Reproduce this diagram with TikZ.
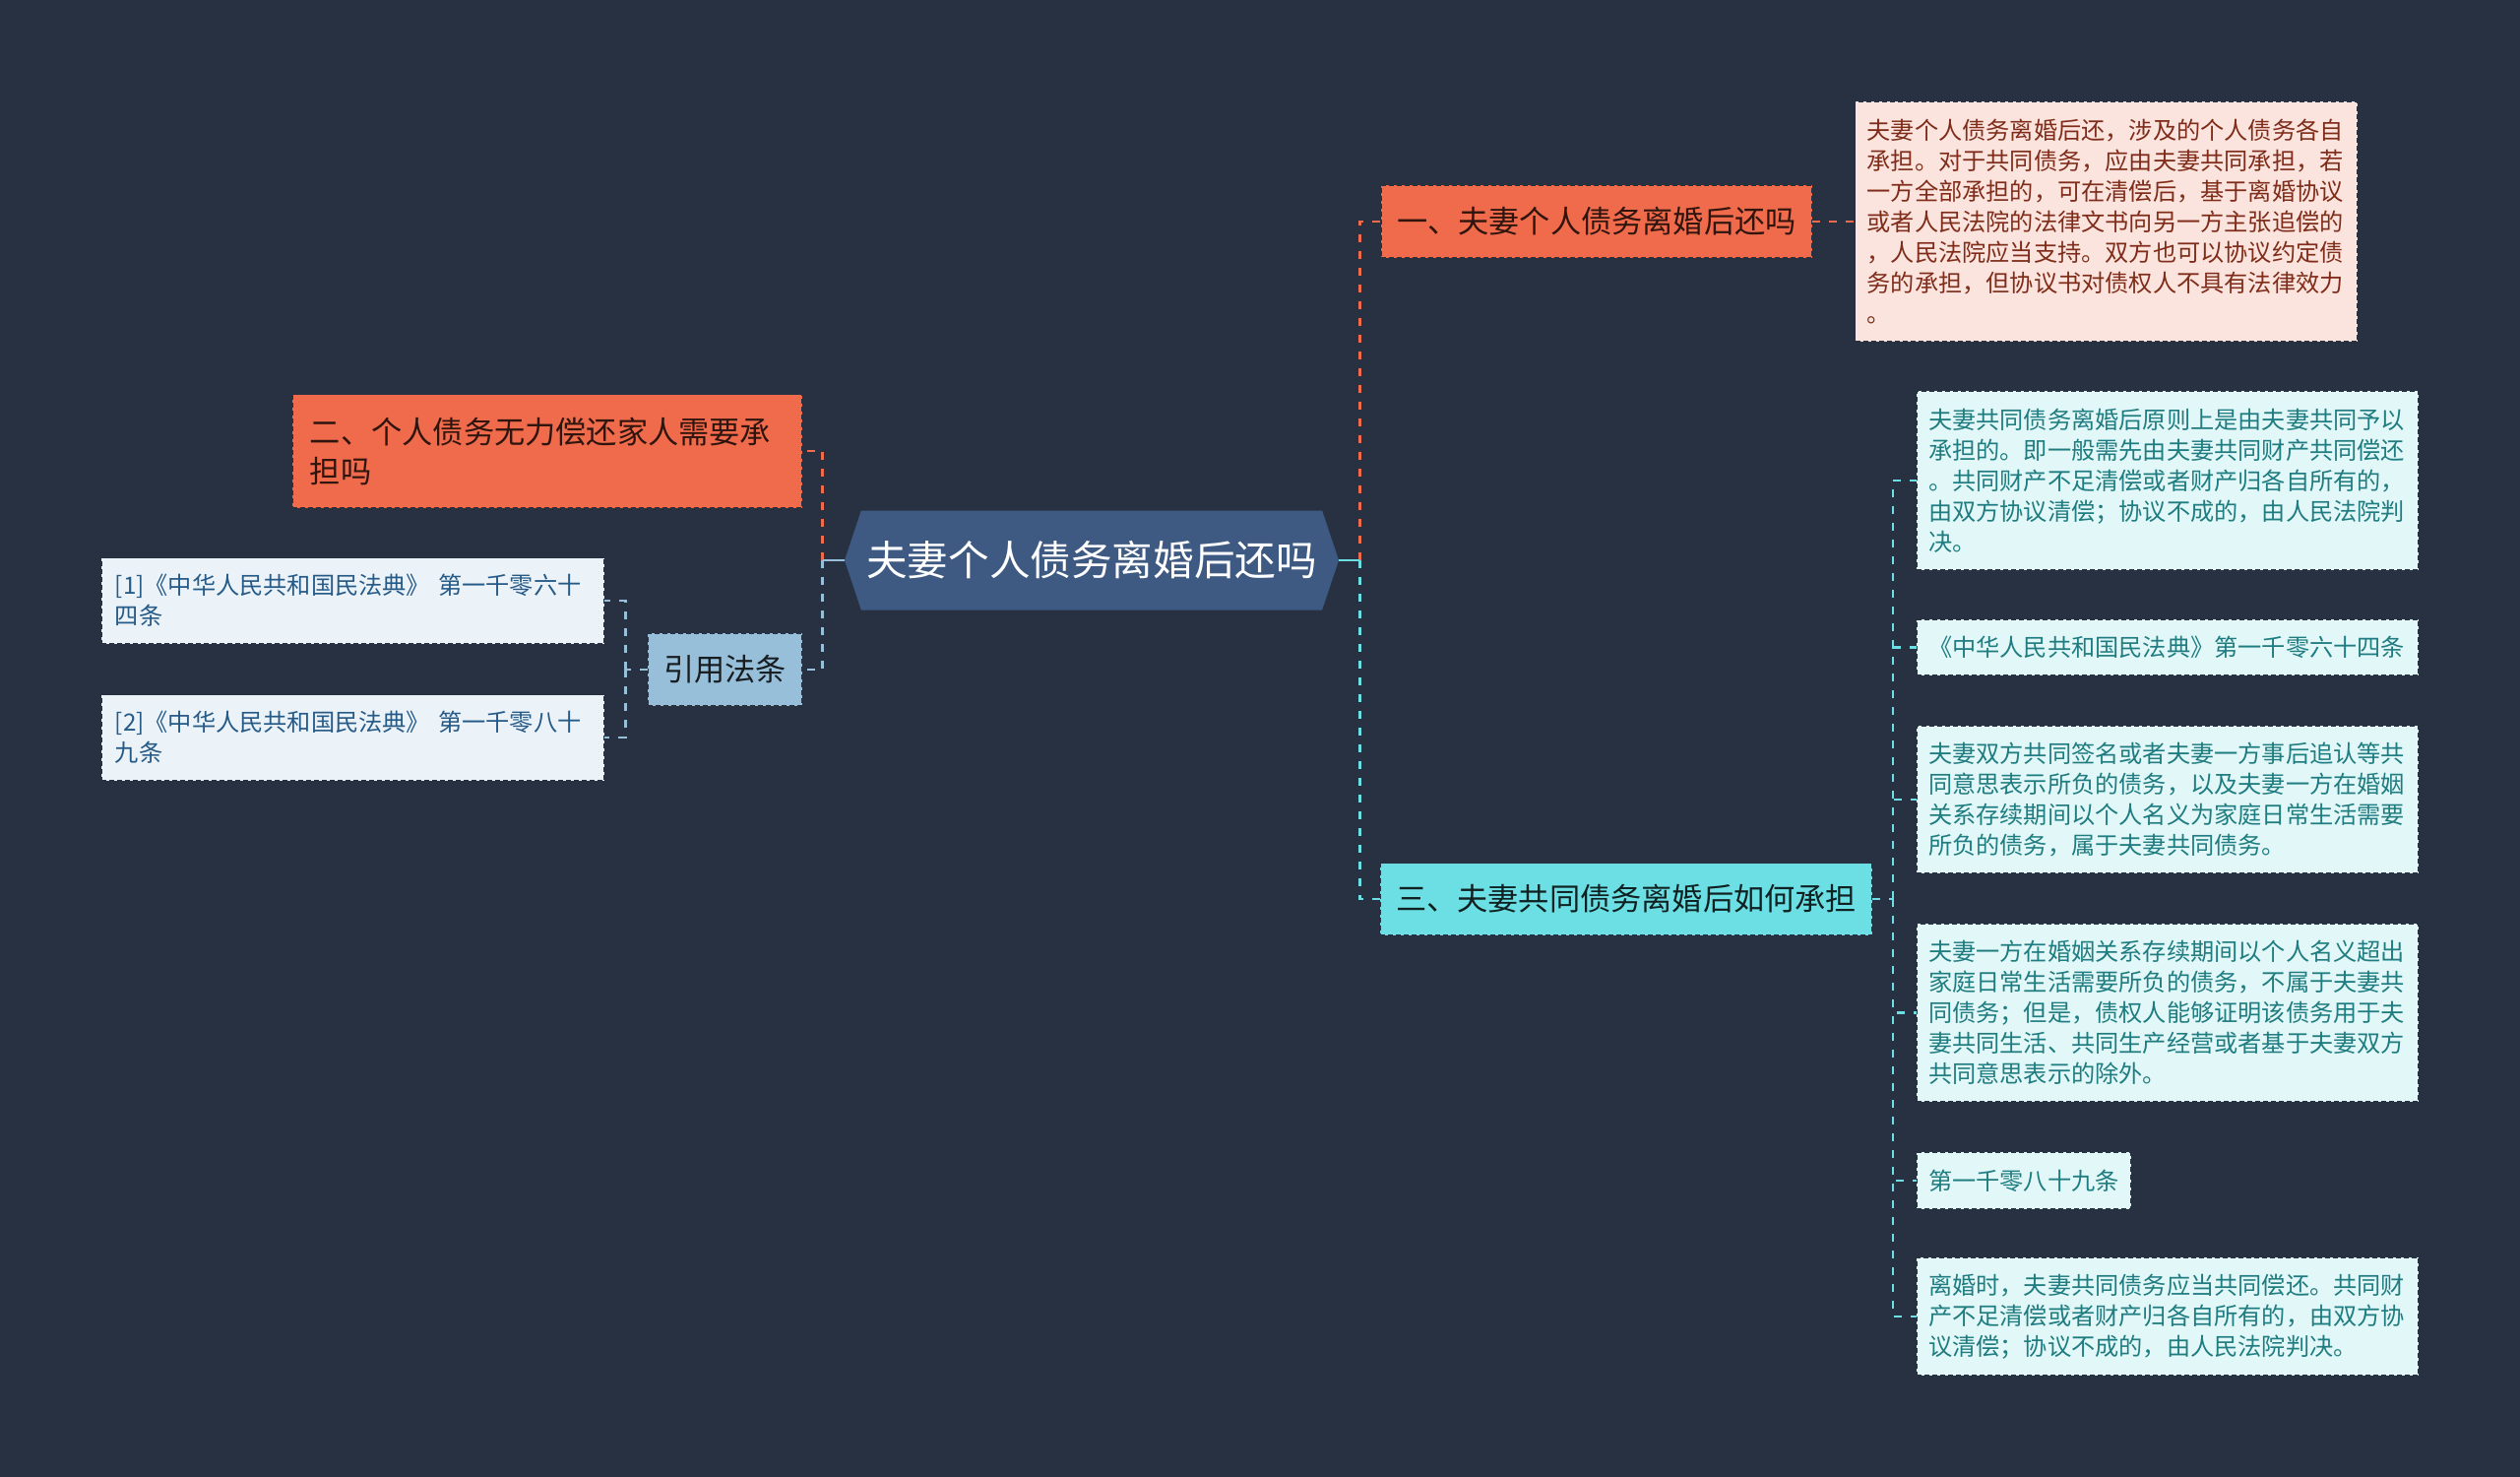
\documentclass[tikz,border=0pt]{standalone}
\usepackage{fontspec}
\setmainfont{Noto Sans CJK SC}
\usetikzlibrary{positioning, shapes.symbols}
\usepackage{xcolor}

\definecolor{bgc}{HTML}{283142}
\definecolor{hexc}{HTML}{3E5A82}
\definecolor{orangec}{HTML}{EF6B4B}
\definecolor{cyanc}{HTML}{6CDFE4}
\definecolor{bluec}{HTML}{98BFD9}
\definecolor{pinkleafc}{HTML}{FCE4DE}
\definecolor{cyanleafc}{HTML}{E2F8F8}
\definecolor{blueleafc}{HTML}{EBF3F9}
\definecolor{pinktextc}{HTML}{7F2D1A}
\definecolor{cyantextc}{HTML}{1F7C80}
\definecolor{bluetextc}{HTML}{265A87}

\begin{document}
\begin{tikzpicture}[
  x=1bp, y=-1bp,
  hub/.style={signal, signal to=west and east, signal pointer angle=143,
    fill=hexc, text=white, minimum width=502bp, minimum height=101bp,
    inner sep=0pt, font=\fontsize{41.6bp}{50bp}\selectfont},
  branch/.style={draw=bgc, line width=1.5bp, dash pattern=on 5bp off 3bp,
    inner xsep=16bp, inner ysep=6bp, outer sep=0pt, align=left,
    font=\fontsize{31.2bp}{40bp}\selectfont},
  leaf/.style={draw=bgc, line width=1.5bp, dash pattern=on 5bp off 3bp,
    inner xsep=12bp, inner ysep=6bp, outer sep=0pt, align=left, text width=486bp,
    font=\fontsize{24.2bp}{31bp}\selectfont},
  link/.style={line width=2.6bp, dash pattern=on 8bp off 9bp},
  stub/.style={line width=2.6bp}
]
\useasboundingbox (0,0) rectangle (2560,1500);
\fill[bgc] (0,0) rectangle (2560,1500);

% root
\node[hub] (root) at (1109,569) {夫妻个人债务离婚后还吗};

% right side
\node[branch, fill=orangec, text=orangec!20!black, minimum height=74bp, anchor=west]
  (n1) at (1403,225) {一、夫妻个人债务离婚后还吗};
\node[leaf, fill=pinkleafc, text=pinktextc, minimum height=244bp, right=44bp of n1]
  (l1) {夫妻个人债务离婚后还，涉及的个人债务各自\\承担。对于共同债务，应由夫妻共同承担，若\\一方全部承担的，可在清偿后，基于离婚协议\\或者人民法院的法律文书向另一方主张追偿的\\，人民法院应当支持。双方也可以协议约定债\\务的承担，但协议书对债权人不具有法律效力\\。};

\node[branch, fill=cyanc, text=cyanc!15!black, minimum height=73bp, anchor=west]
  (n3) at (1402,913) {三、夫妻共同债务离婚后如何承担};
\tikzset{cyanleaf/.style={leaf, fill=cyanleafc, text=cyantextc}}
\node[cyanleaf, minimum height=182bp, anchor=west] (l3a) at (1947,488)
  {夫妻共同债务离婚后原则上是由夫妻共同予以\\承担的。即一般需先由夫妻共同财产共同偿还\\。共同财产不足清偿或者财产归各自所有的，\\由双方协议清偿；协议不成的，由人民法院判\\决。};
\node[cyanleaf, minimum height=57bp, below right=50bp and 0bp of l3a.south west] (l3b)
  {《中华人民共和国民法典》第一千零六十四条};
\node[cyanleaf, minimum height=150bp, below right=51bp and 0bp of l3b.south west] (l3c)
  {夫妻双方共同签名或者夫妻一方事后追认等共\\同意思表示所负的债务，以及夫妻一方在婚姻\\关系存续期间以个人名义为家庭日常生活需要\\所负的债务，属于夫妻共同债务。};
\node[cyanleaf, minimum height=181bp, below right=51bp and 0bp of l3c.south west] (l3d)
  {夫妻一方在婚姻关系存续期间以个人名义超出\\家庭日常生活需要所负的债务，不属于夫妻共\\同债务；但是，债权人能够证明该债务用于夫\\妻共同生活、共同生产经营或者基于夫妻双方\\共同意思表示的除外。};
\node[cyanleaf, text width=, minimum height=58bp, below right=51bp and 0bp of l3d.south west] (l3e)
  {第一千零八十九条};
\node[cyanleaf, minimum height=120bp, below right=49bp and 0bp of l3e.south west] (l3f)
  {离婚时，夫妻共同债务应当共同偿还。共同财\\产不足清偿或者财产归各自所有的，由双方协\\议清偿；协议不成的，由人民法院判决。};

% left side
\node[branch, fill=orangec, text=orangec!20!black, text width=482bp, inner xsep=18bp,
  minimum height=115bp, anchor=east] (n2) at (815,458)
  {二、个人债务无力偿还家人需要承\\担吗};
\node[branch, fill=bluec, text=bluec!15!black, minimum height=74bp, anchor=east]
  (cite) at (815,680) {引用法条};
\tikzset{refleaf/.style={leaf, fill=blueleafc, text=bluetextc,
  text width=483bp, inner xsep=14bp, minimum height=87bp}}
\node[refleaf, anchor=east] (r1) at (614,610)
  {[1]《中华人民共和国民法典》 第一千零六十\\四条};
\node[refleaf, below=52bp of r1] (r2)
  {[2]《中华人民共和国民法典》 第一千零八十\\九条};

% connectors
\coordinate (rj) at ([xshift=21bp]root.east);
\coordinate (lj) at ([xshift=-22bp]root.west);
\coordinate (j3) at ([xshift=21bp]n3.east);
\coordinate (jc) at ([xshift=-23bp]cite.west);

\draw[link, orangec] (rj) |- (n1.west);
\draw[link, cyanc] (rj) |- (n3.west);
\draw[stub, cyanc] (root.east) -- (rj);
\draw[link, orangec] (lj) |- (n2.east);
\draw[link, bluec] (lj) |- (cite.east);
\draw[stub, bluec] (root.west) -- (lj);

\draw[link, orangec] (n1.east) -- (l1.west);
\draw[link, cyanc] (n3.east) -- (j3);
\foreach \k in {a,b,c,d,e,f}
  \draw[link, cyanc] (j3) |- (l3\k.west);
\draw[link, bluec] (cite.west) -- (jc);
\foreach \k in {r1,r2}
  \draw[link, bluec] (jc) |- (\k.east);
\end{tikzpicture}
\end{document}
